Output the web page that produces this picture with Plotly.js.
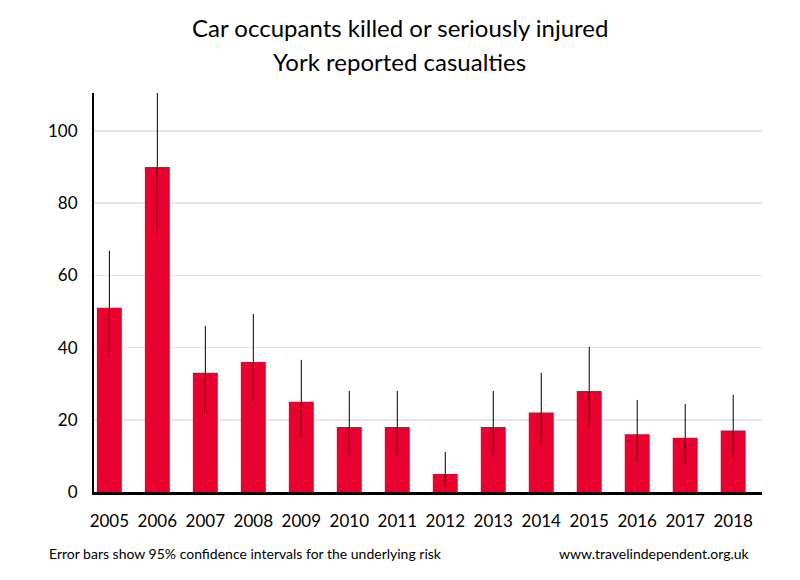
<!DOCTYPE html>
<html>
<head>
<meta charset="utf-8">
<script src="https://cdn.plot.ly/plotly-3.0.1.min.js"></script>
<style>html,body{margin:0;padding:0;background:#fff}</style>
</head>
<body>
<div id="chart" style="width:800px;height:580px"></div>
<script>
const years = ["2005","2006","2007","2008","2009","2010","2011","2012","2013","2014","2015","2016","2017","2018"];
const casualties = [51, 90, 33, 36, 25, 18, 18, 5, 18, 22, 28, 16, 15, 17];
const ciUpper = [66.8, 112, 46.0, 49.3, 36.6, 28.0, 28.0, 11.1, 28.0, 33.0, 40.2, 25.5, 24.4, 26.9];
const ciLower = [37.5, 72.1, 22.2, 24.7, 15.6, 10.1, 10.1, 1.2, 10.1, 13.4, 18.1, 8.7, 7.8, 9.5];
const yTicks = [0, 20, 40, 60, 80, 100];
const titleLines = ['Car occupants killed or seriously injured', 'York reported casualties'];

const errPlus = casualties.map((v, i) => ciUpper[i] - v);
const errMinus = casualties.map((v, i) => v - ciLower[i]);

const FONT = "Lato, 'Open Sans', sans-serif";

const trace = {
  type: 'bar',
  x: years,
  y: casualties,
  width: 0.52,
  marker: {color: '#E8002F', line: {width: 0}},
  error_y: {
    type: 'data', symmetric: false,
    array: errPlus, arrayminus: errMinus,
    color: '#000000', thickness: 1, width: 0
  },
  hoverinfo: 'x+y'
};

const layout = {
  width: 800, height: 580,
  margin: {l: 94, r: 38, t: 93, b: 88},
  paper_bgcolor: '#ffffff', plot_bgcolor: '#ffffff',
  showlegend: false,
  xaxis: {
    type: 'category',
    range: [-0.32, 13.6],
    showgrid: false, zeroline: false,
    showline: true, linecolor: '#000', linewidth: 2.5,
    ticks: 'outside', ticklen: 12, tickcolor: 'rgba(0,0,0,0)',
    tickfont: {family: FONT, size: 17, color: '#000'},
    fixedrange: true
  },
  yaxis: {
    range: [0, 110.5],
    tickvals: yTicks,
    ticktext: yTicks.map(String),
    showgrid: true, gridcolor: '#e6e6e6', gridwidth: 1.5,
    zeroline: false,
    showline: true, linecolor: '#000', linewidth: 2,
    ticks: 'outside', ticklen: 11, tickcolor: 'rgba(0,0,0,0)',
    tickfont: {family: FONT, size: 17, color: '#000'},
    fixedrange: true
  },
  annotations: [
    {text: titleLines[0], xref: 'paper', yref: 'paper', x: 0.458, y: 1.163,
     xanchor: 'center', yanchor: 'middle', showarrow: false,
     font: {family: FONT, size: 24, color: '#000'}},
    {text: titleLines[1], xref: 'paper', yref: 'paper', x: 0.458, y: 1.078,
     xanchor: 'center', yanchor: 'middle', showarrow: false,
     font: {family: FONT, size: 24, color: '#000'}},
    {text: 'Error bars show 95% confidence intervals for the underlying risk',
     xref: 'paper', yref: 'paper', x: -0.071, y: -0.153, xanchor: 'left', yanchor: 'middle',
     showarrow: false, font: {family: FONT, size: 14, color: '#000'}},
    {text: 'www.travelindependent.org.uk',
     xref: 'paper', yref: 'paper', x: 0.985, y: -0.153, xanchor: 'right', yanchor: 'middle',
     showarrow: false, font: {family: FONT, size: 14, color: '#000'}}
  ]
};

Plotly.newPlot('chart', [trace], layout, {displayModeBar: false, staticPlot: true});
</script>
</body>
</html>
